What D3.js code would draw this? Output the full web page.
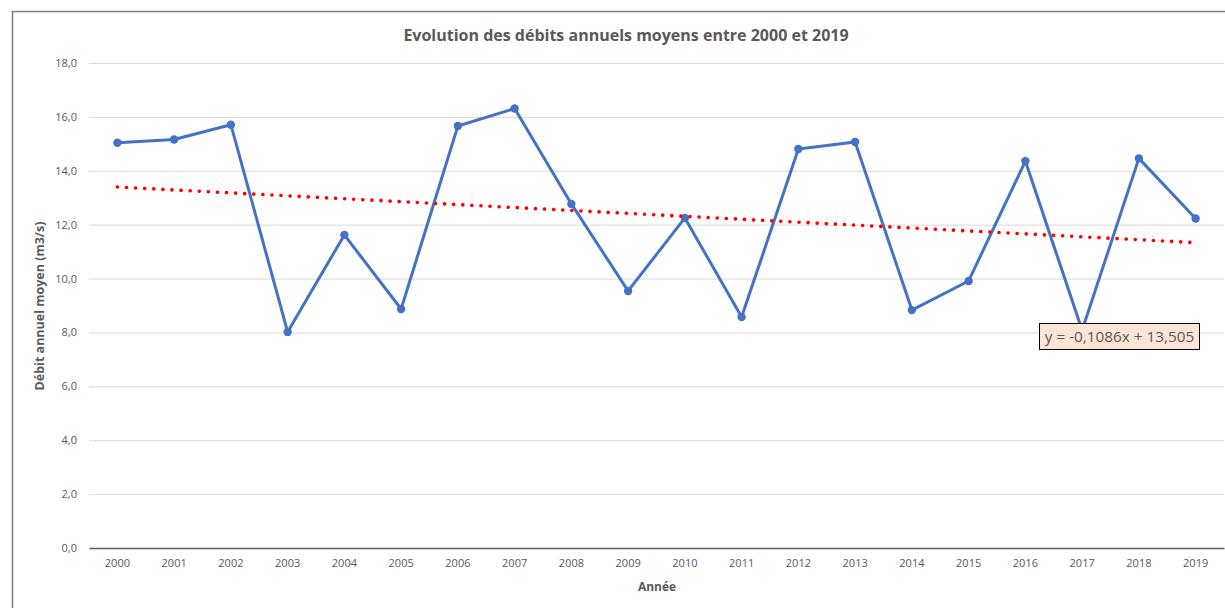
<!DOCTYPE html>
<html><head><meta charset="utf-8">
<script src="https://cdn.jsdelivr.net/npm/d3@7"></script>
<style>body{margin:0;background:#fff}svg{display:block}text{font-family:"Open Sans","Noto Sans",sans-serif}</style>
</head><body><svg id="c" width="1225" height="608"></svg>
<script>
const years = ["2000","2001","2002","2003","2004","2005","2006","2007","2008","2009","2010","2011","2012","2013","2014","2015","2016","2017","2018","2019"];
const debits = [15.04,15.16,15.71,8.02,11.62,8.87,15.66,16.31,12.77,9.54,12.25,8.57,14.81,15.07,8.83,9.91,14.36,8.08,14.46,12.23];
const yTicks = [0,2,4,6,8,10,12,14,16,18];
const trendSlope = -0.1086, trendIntercept = 13.505;
const title = "Evolution des débits annuels moyens entre 2000 et 2019";
const xTitle = "Année", yTitle = "Débit annuel moyen (m3/s)";
const trendLabel = "y = -0,1086x + 13,505";

const svg = d3.select("#c");
const fmt = v => d3.format(".1f")(v).replace(".", ",");
const x = d3.scaleBand().domain(years).range([89, 1224]).paddingInner(0).paddingOuter(0);
const xc = d => x(d) + x.bandwidth()/2;
const y = d3.scaleLinear().domain([0,18]).range([548, 63]);

// frame
svg.append("rect").attr("x",12.5).attr("y",11.5).attr("width",1240).attr("height",640)
  .attr("fill","none").attr("stroke","#7f7f7f").attr("stroke-width",1.5);

// title
svg.append("text").attr("x",626).attr("y",41).attr("text-anchor","middle")
  .attr("font-size",16).attr("font-weight","bold").attr("fill","#595959").text(title);

// grid
const yAxis = d3.axisLeft(y).tickValues(yTicks).tickSize(-(1224-89)).tickPadding(12).tickFormat(fmt);
const gy = svg.append("g").attr("transform","translate(89,0)").call(yAxis);
gy.select(".domain").remove();
gy.selectAll(".tick line").attr("stroke","#d9d9d9").attr("stroke-width",1);
gy.selectAll(".tick text").attr("fill","#595959").attr("font-size",11).attr("font-family","\"Open Sans\",sans-serif");

const xAxis = d3.axisBottom(x).tickSize(0).tickPadding(11);
const gx = svg.append("g").attr("transform","translate(0,548)").call(xAxis);
gx.select(".domain").attr("stroke","#595959").attr("stroke-width",1.3);
gx.selectAll(".tick text").attr("fill","#595959").attr("font-size",11).attr("font-family","\"Open Sans\",sans-serif");

// axis titles
svg.append("text").attr("x",657).attr("y",591).attr("text-anchor","middle")
  .attr("font-size",12).attr("font-weight","bold").attr("fill","#595959").text(xTitle);
svg.append("text").attr("transform","translate(44,306) rotate(-90)").attr("text-anchor","middle")
  .attr("font-size",12.5).attr("font-weight","bold").attr("fill","#595959").text(yTitle);

// series
const line = d3.line().x((d,i)=>xc(years[i])).y(d=>y(d));
svg.append("path").datum(debits).attr("d",line).attr("fill","none")
  .attr("stroke","#4472C4").attr("stroke-width",3).attr("stroke-linejoin","round");
svg.selectAll("circle.pt").data(debits).enter().append("circle").attr("class","pt")
  .attr("cx",(d,i)=>xc(years[i])).attr("cy",d=>y(d)).attr("r",4.2).attr("fill","#4472C4");

// trend
const tr = [1, years.length].map(n => ({yr: years[n-1], v: trendSlope*n + trendIntercept}));
svg.append("path").datum(tr).attr("d", d3.line().x(d=>xc(d.yr)).y(d=>y(d.v)))
  .attr("fill","none").attr("stroke","#ff0000").attr("stroke-width",3.6)
  .attr("stroke-linecap","round").attr("stroke-dasharray","0.1 9");

// trend label
const lg = svg.append("g").attr("transform","translate(1039.5,323.5)");
lg.append("rect").attr("width",160).attr("height",26).attr("fill","#FBE5D6").attr("stroke","#000").attr("stroke-width",1);
lg.append("text").attr("x",80).attr("y",18.5).attr("text-anchor","middle").attr("font-size",15.3)
  .attr("fill","#595959").text(trendLabel);
</script></body></html>
